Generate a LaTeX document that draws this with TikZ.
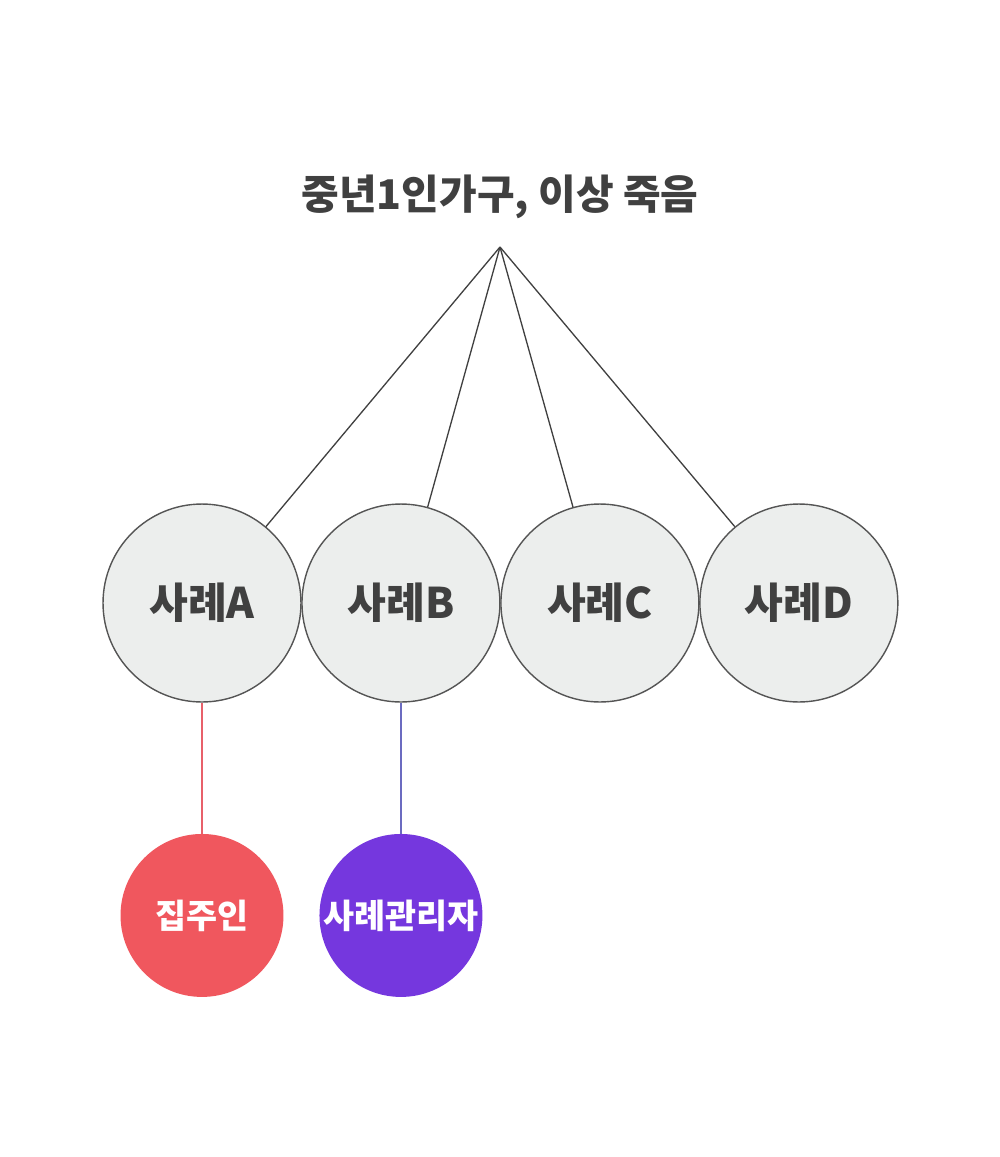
\documentclass[tikz,border=0pt]{standalone}
\usepackage{fontspec}
\setmainfont{Noto Sans CJK KR}
\usetikzlibrary{positioning}
\definecolor{textgray}{HTML}{404040}
\definecolor{casefill}{HTML}{ECEEED}
\definecolor{caseline}{HTML}{555555}
\definecolor{hostred}{HTML}{F0575E}
\definecolor{managerpurple}{HTML}{7537DE}
\definecolor{redline}{HTML}{E8606A}
\definecolor{blueline}{HTML}{6B6BC0}
\tikzset{
  case/.style={circle,draw=caseline,fill=casefill,line width=0.8pt,minimum size=3.96cm,inner sep=0pt,
    text=textgray,font=\fontsize{24}{28}\selectfont\bfseries},
  role/.style={circle,minimum size=3.26cm,inner sep=0pt,text=white,
    font=\fontsize{19.2}{22}\selectfont\bfseries},
}

\begin{document}
\begin{tikzpicture}[x=0.02cm,y=-0.02cm,node distance=3.98cm]
      \useasboundingbox (0,0) rectangle (1000,1157);
      \node [text=textgray,font=\fontsize{23.3}{28}\selectfont\bfseries] (title) at (500,197) {중년1인가구, 이상 죽음};
      \coordinate (apex) at (500,247);
      \node [case] (A) at (202,603) {사례A};
      \node [case,right of=A] (B) {사례B};
      \node [case,right of=B] (C) {사례C};
      \node [case,right of=C] (D) {사례D};
      \node [role,fill=hostred,below of=A,node distance=6.25cm] (host) {집주인};
      \node [role,fill=managerpurple,below of=B,node distance=6.25cm] (manager) {사례관리자};

      \draw[textgray,line width=0.75pt] (apex) -- (A);
      \draw[textgray,line width=0.75pt] (apex) -- (B);
      \draw[textgray,line width=0.75pt] (apex) -- (C);
      \draw[textgray,line width=0.75pt] (apex) -- (D);
      \draw[redline,line width=0.8pt] (A) -- (host);
      \draw[blueline,line width=0.8pt] (B) -- (manager);
    \end{tikzpicture}
\end{document}
